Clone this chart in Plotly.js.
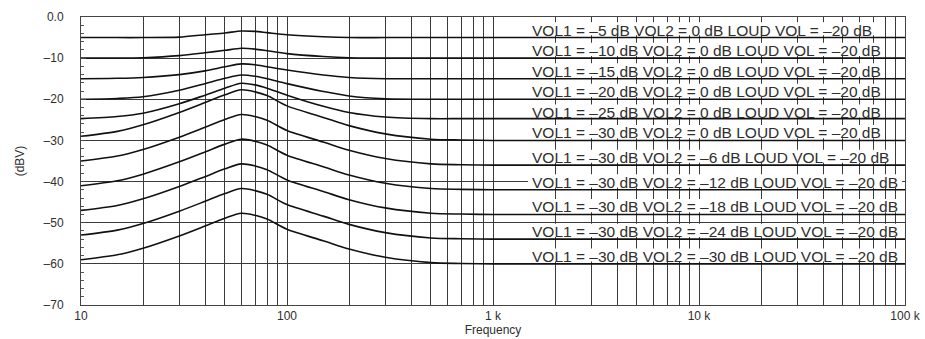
<!DOCTYPE html>
<html>
<head>
<meta charset="utf-8">
<script src="https://cdn.plot.ly/plotly-3.0.1.min.js"></script>
<style>
  html, body { margin: 0; padding: 0; background: #fff; }
  #chart { width: 925px; height: 339px; }
</style>
</head>
<body>
<div id="chart"></div>
<script>
// Frequency points (Hz) shared by every response curve
const freq = [10, 15, 20, 30, 40, 50, 60, 70, 80, 100, 150, 200, 300, 500, 700, 1000, 2000, 100000];

// Output level (dBV) for each VOL1 / VOL2 setting, LOUD VOL = -20 dB
const c1  = [-5.0, -5.0, -5.0, -4.9, -4.3, -3.9, -3.4, -3.5, -3.8, -4.3, -4.8, -5.0, -5.0, -5.0, -5.0, -5.0, -5.0, -5.0];
const c2  = [-10.0, -10.0, -9.9, -9.4, -8.7, -8.1, -7.6, -7.8, -8.2, -8.9, -9.6, -9.9, -10.0, -10.0, -10.0, -10.0, -10.0, -10.0];
const c3  = [-15.0, -14.9, -14.7, -14.0, -13.1, -12.1, -11.4, -11.6, -12.1, -12.9, -14.1, -14.7, -15.0, -15.0, -15.0, -15.0, -15.0, -15.0];
const c4  = [-20.0, -19.8, -19.4, -17.8, -16.2, -14.9, -14.1, -14.4, -15.0, -16.2, -18.1, -19.2, -19.9, -20.0, -20.0, -20.0, -20.0, -20.0];
const c5  = [-24.7, -24.2, -23.4, -21.1, -19.0, -17.3, -16.1, -16.5, -17.3, -19.0, -21.7, -23.2, -24.3, -24.7, -24.7, -24.7, -24.7, -24.7];
const c6  = [-29.0, -27.8, -26.2, -23.2, -20.8, -18.9, -17.7, -18.2, -19.1, -21.6, -24.4, -26.4, -28.4, -29.7, -29.9, -30.0, -30.0, -30.0];
const c7  = [-35.0, -33.8, -32.2, -29.2, -26.8, -24.9, -23.7, -24.2, -25.1, -27.6, -30.4, -32.4, -34.4, -35.7, -35.9, -36.0, -36.0, -36.0];
const c8  = [-41.0, -39.8, -38.2, -35.2, -32.8, -30.9, -29.7, -30.2, -31.1, -33.6, -36.4, -38.4, -40.4, -41.7, -41.9, -42.0, -42.0, -42.0];
const c9  = [-47.0, -45.8, -44.2, -41.2, -38.8, -36.9, -35.7, -36.2, -37.1, -39.6, -42.4, -44.4, -46.4, -47.7, -47.9, -48.0, -48.0, -48.0];
const c10 = [-53.0, -51.8, -50.2, -47.2, -44.8, -42.9, -41.7, -42.2, -43.1, -45.6, -48.4, -50.4, -52.4, -53.7, -53.9, -54.0, -54.0, -54.0];
const c11 = [-59.0, -57.8, -56.2, -53.2, -50.8, -48.9, -47.7, -48.2, -49.1, -51.6, -54.4, -56.4, -58.4, -59.7, -59.9, -60.0, -60.0, -60.0];
const curves = [c1, c2, c3, c4, c5, c6, c7, c8, c9, c10, c11];

// Curve labels: VOL1 and VOL2 settings, and the level each label sits on
const vol1 = ['–5', '–10', '–15', '–20', '–25', '–30', '–30', '–30', '–30', '–30', '–30'];
const vol2 = ['0', '0', '0', '0', '0', '0', '–6', '–12', '–18', '–24', '–30'];
const labelLevel = [-5, -10, -15, -20, -25, -30, -36, -42, -48, -54, -60];
const loudVol = '–20';

// Axis ticks
const decades = [10, 100, 1000, 10000, 100000];
const decadeText = ['10', '100', '1 k', '10 k', '100 k'];
const yTicks = [0, -10, -20, -30, -40, -50, -60, -70];
const yTickText = ['0.0', '–10', '–20', '–30', '–40', '–50', '–60', '–70'];

// every 1..9 multiple inside each decade gets a grid line; decades get text
const xTickVals = [];
const xTickText = [];
decades.forEach((d, i) => {
  const steps = i === decades.length - 1 ? [1] : [1, 2, 3, 4, 5, 6, 7, 8, 9];
  steps.forEach(m => {
    xTickVals.push(d * m);
    xTickText.push(m === 1 ? decadeText[i] : '');
  });
});

const ink = '#111111';
const gridInk = '#3a3a3a';
const textInk = '#2e2e2e';
const fontFam = 'Liberation Sans, Arial, sans-serif';

const labelLeft = 0.546;   // paper fraction where label text starts
const boxPad = 4;          // px of white kept around the text on either side
const boxLow = 0.55;       // dB above the curve where a label background starts
const boxHigh = 3.75;      // dB above the curve where it ends

const curveTraces = curves.map(c => ({
  type: 'scatter',
  mode: 'lines',
  x: freq,
  y: c,
  line: { color: ink, width: 1.6, shape: 'spline', smoothing: 0.8 },
  hoverinfo: 'skip',
  showlegend: false
}));

// white label backgrounds: drawn as the first trace so they hide the
// grid but stay under the curves
function boxTrace(xl, xr) {
  const bx = [], by = [];
  labelLevel.forEach((lv, i) => {
    const y0 = lv + boxLow, y1 = lv + boxHigh;
    bx.push(xl, xr[i], xr[i], xl, xl, null);
    by.push(y0, y0, y1, y1, y0, null);
  });
  return {
    type: 'scatter', mode: 'none', fill: 'toself', fillcolor: '#ffffff',
    x: bx, y: by, hoverinfo: 'skip', showlegend: false
  };
}

const annotations = labelLevel.map((lv, i) => ({
  xref: 'paper', yref: 'y',
  x: labelLeft, y: lv,
  xanchor: 'left', yanchor: 'bottom',
  yshift: -2,
  showarrow: false,
  borderpad: 0,
  text: 'VOL1 = ' + vol1[i] + ' dB VOL2 = ' + vol2[i] + ' dB LOUD VOL = ' + loudVol + ' dB',
  font: { family: fontFam, size: 15.5, color: textInk }
}));

const layout = {
  width: 925, height: 339,
  margin: { l: 81, r: 20, t: 17, b: 34 },
  paper_bgcolor: '#ffffff',
  plot_bgcolor: '#ffffff',
  font: { family: fontFam, size: 12, color: textInk },
  xaxis: {
    type: 'log', range: [1, 5], automargin: false,
    tickmode: 'array', tickvals: xTickVals, ticktext: xTickText,
    showgrid: true, gridcolor: gridInk, gridwidth: 1,
    ticks: '', showline: true, mirror: true, linecolor: '#444', linewidth: 1,
    tickfont: { size: 12, color: textInk },
    title: { text: 'Frequency', font: { size: 12, color: textInk }, standoff: 0 },
    zeroline: false
  },
  yaxis: {
    range: [-70, 0], automargin: false,
    tickmode: 'array', tickvals: yTicks, ticktext: yTickText,
    showgrid: true, gridcolor: gridInk, gridwidth: 1,
    ticks: 'inside', ticklen: 5, tickcolor: '#444',
    ticklabelstandoff: 14,
    minor: { dtick: 2, ticks: 'inside', ticklen: 3, tickcolor: '#555', showgrid: false },
    showline: true, mirror: true, linecolor: '#444', linewidth: 1,
    tickfont: { size: 12, color: textInk },
    title: { text: '(dBV)', font: { size: 12, color: textInk }, standoff: 16 },
    zeroline: false
  },
  annotations: annotations
};

const gd = document.getElementById('chart');
const initBoxes = boxTrace(1400, labelLevel.map(() => 80000));
Plotly.newPlot(gd, [initBoxes].concat(curveTraces), layout, { displayModeBar: false, staticPlot: true }).then(() => {
  // fit each white background to the width of its label text
  const xa = gd._fullLayout.xaxis;
  const sz = gd._fullLayout._size;
  const host = gd.getBoundingClientRect();
  const toHz = px => Math.pow(10, xa.p2l(px - sz.l));
  const texts = gd.querySelectorAll('.annotation-text');
  if (texts.length !== labelLevel.length) return;
  let left = Infinity;
  const rights = [];
  texts.forEach(t => {
    const r = t.getBoundingClientRect();
    left = Math.min(left, r.left - host.left - boxPad);
    rights.push(toHz(r.right - host.left + boxPad));
  });
  const b = boxTrace(toHz(left), rights);
  Plotly.restyle(gd, { x: [b.x], y: [b.y] }, [0]);
});
</script>
</body>
</html>
